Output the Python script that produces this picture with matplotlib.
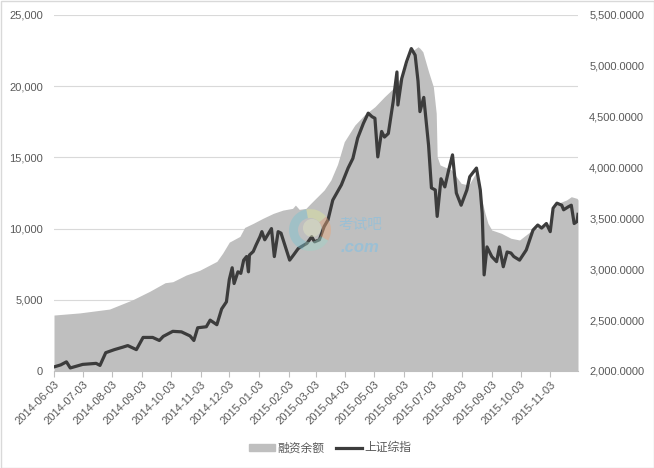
import matplotlib
matplotlib.use("Agg")
import matplotlib.pyplot as plt
import matplotlib.dates as mdates
from matplotlib.patches import Rectangle, Wedge
from matplotlib.lines import Line2D
from matplotlib.ticker import FuncFormatter, MultipleLocator
from matplotlib.transforms import IdentityTransform
import pandas as pd

# 融资余额 (left axis)
margin_dates = [
    "2014-06-03", "2014-06-30", "2014-07-31", "2014-08-24", "2014-09-11",
    "2014-09-27", "2014-10-05", "2014-10-19", "2014-11-02", "2014-11-20",
    "2014-11-26", "2014-12-03", "2014-12-14", "2014-12-19", "2014-12-28",
    "2015-01-07", "2015-01-18", "2015-01-28", "2015-02-07", "2015-02-10",
    "2015-02-14", "2015-02-21", "2015-02-26", "2015-03-05", "2015-03-12",
    "2015-03-19", "2015-03-26", "2015-04-02", "2015-04-13", "2015-04-23",
    "2015-05-04", "2015-05-14", "2015-05-25", "2015-06-04", "2015-06-11",
    "2015-06-18", "2015-06-20", "2015-06-23", "2015-06-26", "2015-06-29",
    "2015-07-04", "2015-07-07", "2015-07-08", "2015-07-11", "2015-07-23",
    "2015-08-02", "2015-08-10", "2015-08-17", "2015-08-21", "2015-08-27",
    "2015-08-30", "2015-09-03", "2015-09-13", "2015-09-23", "2015-10-02",
    "2015-10-13", "2015-10-23", "2015-11-03", "2015-11-06", "2015-11-11",
    "2015-11-20", "2015-11-25", "2015-12-01", "2015-12-02",
]
margin_values = [
    3930, 4080, 4350, 5000, 5600,
    6200, 6270, 6740, 7070, 7700,
    8270, 9050, 9450, 10080, 10370,
    10720, 11070, 11300, 11420, 11650,
    11350, 11420, 11770, 12240, 12710,
    13410, 14520, 16100, 17270, 17980,
    18560, 19260, 19960, 21140, 22420,
    22770, 22660, 22420, 21720, 21020,
    19960, 18100, 15050, 14470, 14110,
    13180, 13060, 13880, 12710, 11070,
    10370, 9900, 9670, 9320, 9200,
    9780, 10130, 10250, 11300, 11770,
    12010, 12240, 12120, 12010,
]

# 上证综指 (right axis)
index_dates = [
    "2014-06-03", "2014-06-10", "2014-06-16", "2014-06-20", "2014-07-03",
    "2014-07-17", "2014-07-21", "2014-07-27", "2014-08-05", "2014-08-14",
    "2014-08-19", "2014-08-28", "2014-09-04", "2014-09-14", "2014-09-21",
    "2014-09-25", "2014-10-05", "2014-10-14", "2014-10-23", "2014-10-27",
    "2014-10-31", "2014-11-09", "2014-11-13", "2014-11-20", "2014-11-25",
    "2014-11-30", "2014-12-03", "2014-12-06", "2014-12-08", "2014-12-12",
    "2014-12-15", "2014-12-18", "2014-12-21", "2014-12-23", "2014-12-24",
    "2014-12-28", "2014-12-31", "2015-01-04", "2015-01-06", "2015-01-09",
    "2015-01-16", "2015-01-19", "2015-01-23", "2015-01-26", "2015-02-04",
    "2015-02-08", "2015-02-13", "2015-02-22", "2015-02-27", "2015-03-02",
    "2015-03-07", "2015-03-12", "2015-03-16", "2015-03-21", "2015-03-30",
    "2015-04-06", "2015-04-11", "2015-04-16", "2015-04-22", "2015-04-27",
    "2015-05-01", "2015-05-04", "2015-05-07", "2015-05-11", "2015-05-14",
    "2015-05-18", "2015-05-23", "2015-05-27", "2015-05-28", "2015-06-01",
    "2015-06-06", "2015-06-11", "2015-06-15", "2015-06-18", "2015-06-20",
    "2015-06-24", "2015-06-29", "2015-07-02", "2015-07-06", "2015-07-08",
    "2015-07-12", "2015-07-16", "2015-07-20", "2015-07-24", "2015-07-28",
    "2015-08-02", "2015-08-08", "2015-08-11", "2015-08-18", "2015-08-22",
    "2015-08-24", "2015-08-26", "2015-08-29", "2015-09-03", "2015-09-08",
    "2015-09-11", "2015-09-15", "2015-09-19", "2015-09-23", "2015-09-26",
    "2015-10-02", "2015-10-09", "2015-10-16", "2015-10-21", "2015-10-25",
    "2015-10-30", "2015-11-03", "2015-11-06", "2015-11-10", "2015-11-15",
    "2015-11-17", "2015-11-22", "2015-11-25", "2015-11-28", "2015-12-01",
    "2015-12-02",
]
index_values = [
    2040, 2060, 2090, 2030, 2065,
    2075, 2055, 2180, 2210, 2235,
    2250, 2210, 2330, 2330, 2300,
    2340, 2390, 2385, 2345, 2300,
    2425, 2435, 2500, 2455, 2610,
    2680, 2900, 3015, 2860, 2975,
    2960, 3090, 3125, 2975, 3140,
    3175, 3240, 3320, 3370, 3290,
    3400, 3125, 3370, 3355, 3090,
    3140, 3205, 3255, 3320, 3270,
    3290, 3420, 3485, 3680, 3830,
    3995, 4090, 4290, 4435, 4535,
    4500, 4485, 4105, 4355, 4300,
    4335, 4645, 4940, 4615, 4875,
    5040, 5170, 5105, 4850, 4550,
    4690, 4220, 3800, 3780, 3520,
    3890, 3810, 3975, 4125, 3750,
    3630, 3780, 3910, 3995, 3780,
    3550, 2945, 3220, 3125, 3075,
    3220, 3025, 3170, 3160, 3125,
    3090, 3190, 3385, 3435, 3405,
    3450, 3370, 3600, 3650, 3630,
    3585, 3615, 3630, 3450, 3470,
    3540,
]

x_start, x_end = "2014-06-03", "2015-12-02"

md = pd.to_datetime(margin_dates)
idx = pd.to_datetime(index_dates)

plt.rcParams['font.family'] = ['Liberation Sans', 'Noto Sans CJK SC']
txt = '#595959'

fig = plt.figure(figsize=(6.54, 4.68), dpi=100)
ax = fig.add_axes([54/654, 1-371/468, (578-54)/654, (371-15)/468])
ax2 = ax.twinx()

ax.fill_between(md, margin_values, 0, color='#bfbfbf', linewidth=0, zorder=2)
ax2.plot(idx, index_values, color='#3c3c3c', linewidth=2.3, solid_joinstyle='round')

ax.set_xlim(pd.Timestamp(x_start), pd.Timestamp(x_end))
ax.set_ylim(0, 25000)
ax2.set_ylim(2000, 5500)

ax.yaxis.set_major_locator(MultipleLocator(5000))
ax.yaxis.set_major_formatter(FuncFormatter(lambda v, p: f"{v:,.0f}"))
ax2.yaxis.set_major_locator(MultipleLocator(500))
ax2.yaxis.set_major_formatter(FuncFormatter(lambda v, p: f"{v:,.4f}"))

ax.xaxis.set_major_locator(mdates.MonthLocator(bymonthday=3))
ax.xaxis.set_major_formatter(mdates.DateFormatter('%Y-%m-%d'))

ax.set_axisbelow(True)
ax.grid(axis='y', color='#d9d9d9', linewidth=0.8, zorder=0)

for a in (ax, ax2):
    for s in a.spines.values():
        s.set_visible(False)
ax.spines['bottom'].set_visible(True)
ax.spines['bottom'].set_color('#bfbfbf')
ax.spines['bottom'].set_linewidth(0.8)

ax.tick_params(axis='y', length=0, pad=8, labelsize=8, labelcolor=txt)
ax2.tick_params(axis='y', length=0, pad=8, labelsize=8, labelcolor=txt)
ax.tick_params(axis='x', length=4, width=0.8, color='#bfbfbf', pad=2,
               labelsize=8, labelcolor=txt)
for lab in ax.get_xticklabels():
    lab.set_rotation(45)
    lab.set_ha('right')
    lab.set_rotation_mode('anchor')

# watermark logo (pixel coordinates, origin bottom-left)
cx, cy = 310, 468 - 230
for t1, t2, col in [(100, 250, '#7cc3cf'), (250, 330, '#9fd3c8'),
                    (330, 40, '#e8a57a'), (40, 100, '#dce59a')]:
    fig.add_artist(Wedge((cx, cy), 21, t1, t2, width=9, color=col, alpha=0.45,
                         transform=IdentityTransform(), linewidth=0))
fig.add_artist(Wedge((cx + 2, cy + 2), 9, 0, 360, color='#e6ecc4', alpha=0.4,
                     transform=IdentityTransform(), linewidth=0))
fig.text(360/654, 1-225/468, '考试吧', color='#8fbfdc', alpha=0.75, fontsize=10.5,
         style='italic', ha='center', va='center', family=['Noto Sans CJK SC'])
fig.text(360/654, 1-247/468, '.com', color='#8fbfdc', alpha=0.75, fontsize=12,
         style='italic', fontweight='bold', ha='center', va='center')

handles = [Rectangle((0, 0), 1, 1, color='#bfbfbf'),
           Line2D([0], [0], color='#3c3c3c', linewidth=2.3)]
fig.legend(handles, ['融资余额', '上证综指'], loc='center',
           bbox_to_anchor=(330/654, 1-448/468), ncol=2, frameon=False,
           prop={'family': ['Noto Sans CJK SC'], 'size': 8.5},
           labelcolor=txt, handlelength=2.2, handleheight=0.6,
           handletextpad=0.2, columnspacing=1.0)

fig.add_artist(Rectangle((0.5/654, 0.5/468), 653/654, 467/468, transform=fig.transFigure,
                         fill=False, edgecolor='#d9d9d9', linewidth=1))

fig.savefig('out.png', dpi=100, facecolor='white')
